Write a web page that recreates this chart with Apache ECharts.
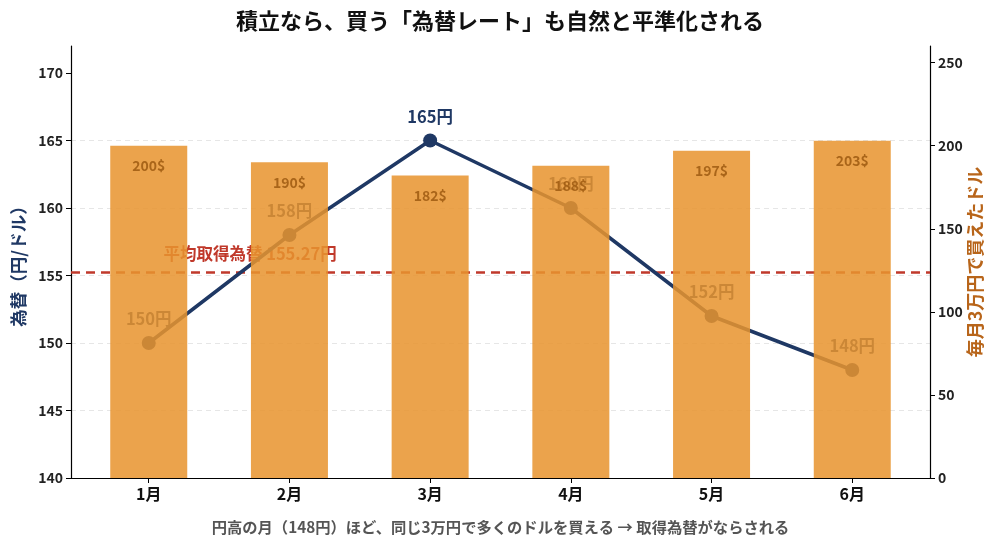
<!DOCTYPE html>
<html>
<head>
<meta charset="utf-8">
<script src="https://cdn.jsdelivr.net/npm/echarts@6/dist/echarts.min.js"></script>
<style>html,body{margin:0;padding:0;background:#fff}#c{width:1000px;height:549px}</style>
</head>
<body>
<div id="c"></div>
<script>
const months = ['1月','2月','3月','4月','5月','6月'];
const rates = [150, 158, 165, 160, 152, 148];
const dollars = [200, 190, 182, 188, 197, 203];
const avgRate = 155.27;
const leftTicks = [140, 145, 150, 155, 160, 165, 170];
const rightTicks = [0, 50, 100, 150, 200, 250];
const xTicks = [0, 1, 2, 3, 4, 5];

const FONT = "'Noto Sans CJK JP', 'Noto Sans', sans-serif";
const NAVY = '#1f3864';
const RED = '#c0392b';

const chart = echarts.init(document.getElementById('c'), null, {renderer: 'canvas'});
chart.setOption({
  animation: false,
  textStyle: {fontFamily: FONT},
  title: {
    text: '積立なら、買う「為替レート」も自然と平準化される',
    left: 'center', top: 5,
    textStyle: {fontFamily: FONT, fontSize: 22, fontWeight: 'bold', color: '#111'}
  },
  grid: {left: 71, right: 70, top: 46, bottom: 71},
  xAxis: {
    type: 'value', min: -0.5525, max: 5.5525,
    axisLine: {onZero: false, lineStyle: {color: '#000', width: 1.2}},
    axisTick: {customValues: xTicks, length: 5, lineStyle: {color: '#000'}},
    axisLabel: {customValues: xTicks, formatter: v => months[Math.round(v)], fontSize: 16, fontWeight: 'bold', color: '#111', margin: 8, fontFamily: FONT},
    splitLine: {show: false},
    name: '円高の月（148円）ほど、同じ3万円で多くのドルを買える → 取得為替がならされる',
    nameLocation: 'middle', nameGap: 42,
    nameTextStyle: {fontFamily: FONT, fontSize: 15.3, fontWeight: 'bold', color: '#555'}
  },
  yAxis: [{
    type: 'value', min: 140, max: 172, interval: 5,
    axisLine: {show: true, onZero: false, lineStyle: {color: '#000', width: 1.2}},
    axisTick: {show: true, customValues: leftTicks, length: 5, lineStyle: {color: '#000'}},
    axisLabel: {customValues: leftTicks, fontSize: 14, fontWeight: 'bold', color: '#222', margin: 8, fontFamily: FONT},
    splitLine: {show: true, showMinLine: false, showMaxLine: false, lineStyle: {color: '#e6e6e6', type: [5, 4], width: 1}},
    name: '為替（円/ドル）', nameLocation: 'middle', nameGap: 44, nameRotate: 90,
    nameTextStyle: {fontFamily: FONT, fontSize: 17.5, fontWeight: 'bold', color: NAVY}
  }, {
    type: 'value', min: 0, max: 260, interval: 50, position: 'right',
    axisLine: {show: true, onZero: false, lineStyle: {color: '#000', width: 1.2}},
    axisTick: {show: true, customValues: rightTicks, length: 5, lineStyle: {color: '#000'}},
    axisLabel: {customValues: rightTicks, fontSize: 14, fontWeight: 'bold', color: '#222', margin: 8, fontFamily: FONT},
    splitLine: {show: false},
    name: '毎月3万円で買えたドル', nameLocation: 'middle', nameGap: 36, nameRotate: 90, nameMoveOverlap: false,
    nameTextStyle: {fontFamily: FONT, fontSize: 18, fontWeight: 'bold', color: '#b8651a'}
  }],
  series: [{
    type: 'line',
    z: 2,
    data: rates.map((v, i) => [i, v]),
    yAxisIndex: 0,
    symbol: 'circle', symbolSize: 14,
    itemStyle: {color: NAVY},
    lineStyle: {color: NAVY, width: 3.5},
    label: {show: true, position: 'top', distance: 9, formatter: p => p.value[1] + '円', fontSize: 16.5, fontWeight: 'bold', color: NAVY, fontFamily: FONT},
    markLine: {
      z: 2,
      silent: true, symbol: 'none',
      lineStyle: {color: RED, type: [9, 6], width: 2.5},
      label: {show: false},
      data: [{yAxis: avgRate}]
    },
    markPoint: {
      z: 2,
      silent: true, symbol: 'circle', symbolSize: 0,
      label: {show: true, position: 'inside', formatter: '平均取得為替 ' + avgRate + '円', fontSize: 16.5, fontWeight: 'bold', color: RED, fontFamily: FONT},
      data: [{coord: [0.72, 156.6]}]
    }
  }, {
    type: 'bar',
    z: 3,
    yAxisIndex: 1,
    barWidth: 77,
    data: dollars.map((v, i) => [i, v]),
    itemStyle: {color: '#E8942E', opacity: 0.86},
    label: {show: true, position: 'insideTop', distance: 13, formatter: p => p.value[1] + '$', fontSize: 14, fontWeight: 'bold', color: '#9e5b12', fontFamily: FONT}
  }]
});
</script>
</body>
</html>
